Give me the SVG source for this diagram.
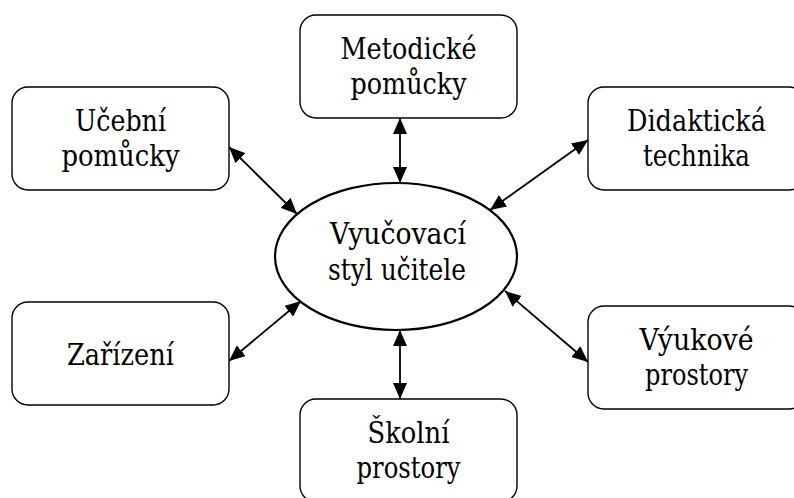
<svg xmlns="http://www.w3.org/2000/svg" width="794" height="498" viewBox="0 0 794 498">
  <style>
    .box { fill: #fff; stroke: #000; stroke-width: 1.4; }
    .hub { fill: #fff; stroke: #000; stroke-width: 2.2; }
    .lbl { font-family: "DejaVu Serif", serif; font-size: 29px; fill: #000; text-anchor: middle; }
    .link { stroke: #000; stroke-width: 1.8; fill: none; marker-start: url(#head); marker-end: url(#head); }
  </style>
  <defs>
    <marker id="head" viewBox="0 0 16 14" refX="16" refY="7" markerWidth="16" markerHeight="14" markerUnits="userSpaceOnUse" orient="auto-start-reverse">
      <path d="M0,0 L16,7 L0,14 z" fill="#000"/>
    </marker>
  </defs>

  <!-- connectors: each double-headed arrow links the hub with one node -->
  <g id="connectors">
    <line class="link" x1="400" y1="118" x2="400" y2="183"/>
    <line class="link" x1="400" y1="330" x2="400" y2="399"/>
    <line class="link" x1="229" y1="147" x2="297" y2="214"/>
    <line class="link" x1="588" y1="140" x2="490" y2="210"/>
    <line class="link" x1="229" y1="361" x2="301" y2="301"/>
    <line class="link" x1="588" y1="362" x2="505" y2="291"/>
  </g>

  <g id="hub">
    <ellipse class="hub" cx="396" cy="256.5" rx="121" ry="73.5"/>
    <text class="lbl" x="398" y="244" textLength="136" lengthAdjust="spacingAndGlyphs">Vyučovací</text>
    <text class="lbl" x="397" y="280" textLength="138" lengthAdjust="spacingAndGlyphs">styl učitele</text>
  </g>

  <g id="metodicke">
    <rect class="box" x="300" y="15" width="217" height="103" rx="16"/>
    <text class="lbl" x="408.5" y="59" textLength="136" lengthAdjust="spacingAndGlyphs">Metodické</text>
    <text class="lbl" x="408.5" y="94" textLength="116" lengthAdjust="spacingAndGlyphs">pomůcky</text>
  </g>

  <g id="ucebni">
    <rect class="box" x="12" y="87" width="217" height="103" rx="16"/>
    <text class="lbl" x="120.5" y="131" textLength="91" lengthAdjust="spacingAndGlyphs">Učební</text>
    <text class="lbl" x="120.5" y="166" textLength="118" lengthAdjust="spacingAndGlyphs">pomůcky</text>
  </g>

  <g id="didakticka">
    <rect class="box" x="588" y="87" width="217" height="103" rx="16"/>
    <text class="lbl" x="696.5" y="131" textLength="139" lengthAdjust="spacingAndGlyphs">Didaktická</text>
    <text class="lbl" x="696.5" y="166" textLength="107" lengthAdjust="spacingAndGlyphs">technika</text>
  </g>

  <g id="zarizeni">
    <rect class="box" x="12" y="302" width="217" height="103" rx="16"/>
    <text class="lbl" x="120.5" y="365" textLength="107" lengthAdjust="spacingAndGlyphs">Zařízení</text>
  </g>

  <g id="vyukove">
    <rect class="box" x="588" y="306" width="217" height="103" rx="16"/>
    <text class="lbl" x="696.5" y="350" textLength="114" lengthAdjust="spacingAndGlyphs">Výukové</text>
    <text class="lbl" x="696.5" y="385" textLength="103" lengthAdjust="spacingAndGlyphs">prostory</text>
  </g>

  <g id="skolni">
    <rect class="box" x="300" y="399" width="217" height="103" rx="16"/>
    <text class="lbl" x="408.5" y="443" textLength="82" lengthAdjust="spacingAndGlyphs">Školní</text>
    <text class="lbl" x="408.5" y="478" textLength="104" lengthAdjust="spacingAndGlyphs">prostory</text>
  </g>
</svg>
